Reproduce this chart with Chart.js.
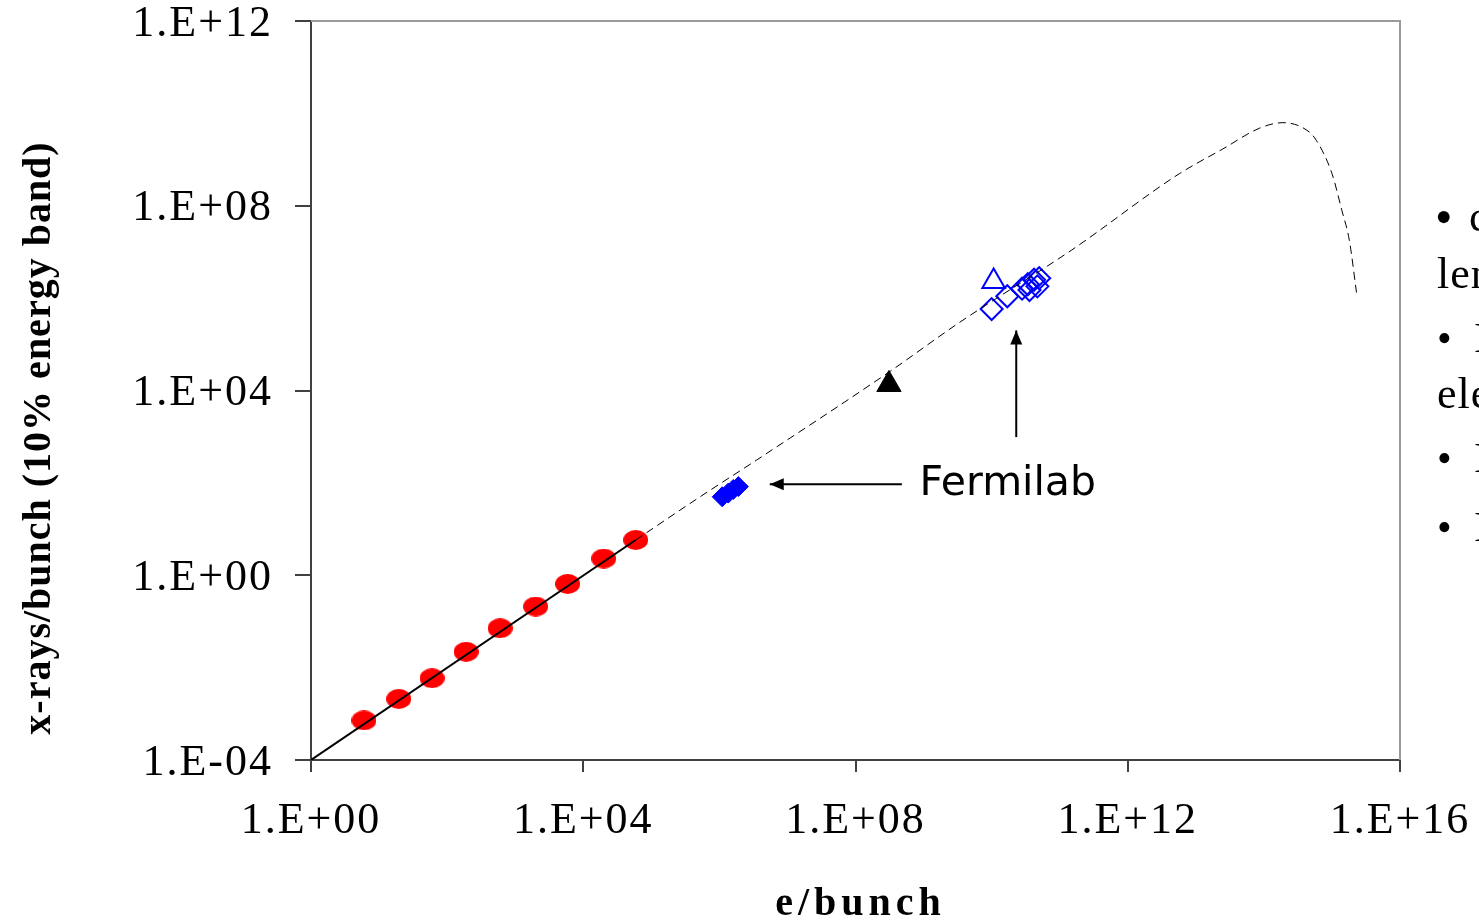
<!DOCTYPE html>
<html>
<head>
<meta charset="utf-8">
<script src="https://cdn.jsdelivr.net/npm/chart.js@4/dist/chart.umd.min.js"></script>
<style>
  html, body { margin: 0; padding: 0; background: #fff; overflow: hidden; }
  #wrap { width: 1479px; height: 923px; }
</style>
</head>
<body>
<div id="wrap"><canvas id="chart" width="1479" height="923"></canvas></div>
<script>
// axis ticks
const xTicks = [1e0, 1e4, 1e8, 1e12, 1e16]
const yTicks = [1e-4, 1e0, 1e4, 1e8, 1e12]

// red measured points (e/bunch, x-rays/bunch)
const redX = [6.0, 19.5, 60, 190, 600, 2000, 5900, 2.0e4, 5.9e4]
const redY = [7.2e-4, 2.1e-3, 5.9e-3, 2.2e-2, 7.1e-2, 0.21, 0.65, 2.3, 5.8]

// solid fit line
const fitX = [1, 5.9e4]
const fitY = [1e-4, 5.8]

// dashed extrapolation
const extX = [5.9e4, 5.1e5, 3.5e6, 3.1e8, 3.4e9, 1.5e11, 5.8e12, 2.5e13, 8.7e13, 1.9e14, 4.3e14, 5.9e14, 1.0e15, 1.4e15, 1.8e15, 2.3e15]
const extY = [5.8, 49, 310, 2.5e4, 3.0e5, 1.1e7, 5.0e8, 1.7e9, 4.8e9, 6.3e9, 4.3e9, 2.6e9, 5.0e8, 7.9e7, 1.8e7, 1.3e6]

// Fermilab filled diamonds
const fermiX = [1.1e6, 1.35e6, 1.6e6, 1.9e6]
const fermiY = [50, 60, 72, 83]

// black triangle
const triX = [3.1e8]
const triY = [1.35e4]

// open blue triangle
const openTriX = [1.07e10]
const openTriY = [2.3e6]

// open blue diamonds
const openDiaX = [1.0e10, 1.7e10, 2.8e10, 3.4e10, 4.2e10, 5.0e10, 3.6e10, 4.7e10]
const openDiaY = [5.8e5, 1.1e6, 1.6e6, 2.0e6, 2.5e6, 2.7e6, 1.5e6, 1.8e6]

const pts = (xs, ys) => xs.map((x, i) => ({x: x, y: ys[i]}))

// red ellipse marker
const ellipse = document.createElement('canvas')
ellipse.width = 25
ellipse.height = 20
{
  const c = ellipse.getContext('2d')
  c.fillStyle = '#ff0000'
  c.beginPath()
  c.ellipse(12.5, 10, 12.5, 10, 0, 0, Math.PI * 2)
  c.fill()
}

function fmt(v) {
  const e = Math.round(Math.log10(v))
  const s = e < 0 ? '-' : '+'
  return '1.E' + s + String(Math.abs(e)).padStart(2, '0')
}

const serif = '"Liberation Serif", "Times New Roman", serif'

const decor = {
  id: 'decor',
  beforeDraw(chart) {
    // tick labels in the original are set a bit loose
    chart.ctx.letterSpacing = '2px'
  },
  afterDraw(chart) {
    const ctx = chart.ctx
    const a = chart.chartArea
    const xs = chart.scales.x, ys = chart.scales.y
    ctx.save()

    // top & right frame
    ctx.strokeStyle = '#9a9a9a'
    ctx.lineWidth = 2
    ctx.beginPath()
    ctx.moveTo(a.left, a.top)
    ctx.lineTo(a.right, a.top)
    ctx.lineTo(a.right, a.bottom)
    ctx.stroke()

    // axis titles
    ctx.fillStyle = '#000'
    ctx.font = 'bold 40px ' + serif
    ctx.textAlign = 'center'
    ctx.textBaseline = 'alphabetic'
    ctx.letterSpacing = '5px'
    ctx.fillText('e/bunch', (a.left + a.right) / 2 + 5, 915)
    ctx.letterSpacing = '1px'
    ctx.save()
    ctx.translate(50, 438)
    ctx.rotate(-Math.PI / 2)
    ctx.fillText('x-rays/bunch (10% energy band)', 0, 0)
    ctx.restore()

    // Fermilab annotation
    ctx.letterSpacing = '0px'
    ctx.font = '41px "DejaVu Sans", sans-serif'
    ctx.textAlign = 'left'
    ctx.fillText('Fermilab', xs.getPixelForValue(8.7e8), ys.getPixelForValue(54))

    const arrow = (x1, y1, x2, y2) => {
      ctx.strokeStyle = '#000'
      ctx.lineWidth = 2
      ctx.beginPath()
      ctx.moveTo(x1, y1)
      ctx.lineTo(x2, y2)
      ctx.stroke()
      const ang = Math.atan2(y2 - y1, x2 - x1)
      const L = 14, W = 6
      ctx.beginPath()
      ctx.moveTo(x2, y2)
      ctx.lineTo(x2 - L * Math.cos(ang) + W * Math.sin(ang), y2 - L * Math.sin(ang) - W * Math.cos(ang))
      ctx.lineTo(x2 - L * Math.cos(ang) - W * Math.sin(ang), y2 - L * Math.sin(ang) + W * Math.cos(ang))
      ctx.closePath()
      ctx.fill()
    }
    arrow(xs.getPixelForValue(4.8e8), ys.getPixelForValue(93), xs.getPixelForValue(5.5e6), ys.getPixelForValue(93))
    arrow(xs.getPixelForValue(2.3e10), ys.getPixelForValue(980), xs.getPixelForValue(2.3e10), ys.getPixelForValue(2.0e5))

    // clipped slide text on the right
    ctx.letterSpacing = '1px'
    ctx.font = '50px ' + serif
    ctx.fillText('\u2022', 1435, 234)
    ctx.font = '44px ' + serif
    ctx.fillText('c', 1469, 231)
    ctx.fillText('len', 1437, 288)
    ctx.fillText('ele', 1437, 408)
    ctx.font = '42px ' + serif
    ctx.fillText('\u2022', 1437, 352)
    ctx.fillText('\u2022', 1437, 472)
    ctx.fillText('\u2022', 1437, 541)
    ctx.fillText('I', 1474, 352)
    ctx.fillText('I', 1474, 472)
    ctx.fillText('I', 1474, 541)
    ctx.restore()
  }
}

new Chart(document.getElementById('chart'), {
  type: 'scatter',
  data: {
    datasets: [
      {
        type: 'line', data: pts(fitX, fitY), borderColor: '#000', borderWidth: 2,
        pointRadius: 0, fill: false
      },
      {
        type: 'line', data: pts(extX, extY), borderColor: '#000', borderWidth: 1,
        borderDash: [8, 5], pointRadius: 0, fill: false, cubicInterpolationMode: 'monotone'
      },
      { data: pts(redX, redY), pointStyle: ellipse },
      {
        data: pts(fermiX, fermiY), pointStyle: 'rectRot', pointRadius: 10,
        backgroundColor: '#0000ff', borderColor: '#0000ff', borderWidth: 1
      },
      {
        data: pts(triX, triY), pointStyle: 'triangle', pointRadius: 14,
        backgroundColor: '#000', borderColor: '#000', borderWidth: 1
      },
      {
        data: pts(openTriX, openTriY), pointStyle: 'triangle', pointRadius: 13,
        backgroundColor: 'rgba(0,0,0,0)', borderColor: '#0000ff', borderWidth: 2
      },
      {
        data: pts(openDiaX, openDiaY), pointStyle: 'rectRot', pointRadius: 11,
        backgroundColor: 'rgba(0,0,0,0)', borderColor: '#0000ff', borderWidth: 2
      }
    ]
  },
  options: {
    responsive: false,
    animation: false,
    devicePixelRatio: 1,
    layout: { padding: { top: 21, right: 79, left: 0, bottom: 0 } },
    plugins: { legend: { display: false }, tooltip: { enabled: false } },
    scales: {
      x: {
        type: 'logarithmic', min: 1, max: 1e16,
        afterBuildTicks: s => { s.ticks = xTicks.map(v => ({value: v})) },
        afterFit: s => { s.height = 163; s.paddingLeft = 0; s.paddingRight = 0 },
        ticks: {
          callback: v => fmt(v), maxRotation: 0, autoSkip: false, padding: 23,
          color: '#000', font: { family: serif, size: 44 }
        },
        grid: { drawOnChartArea: false, tickLength: 12, color: '#404040', lineWidth: 2 },
        border: { color: '#404040', width: 2 }
      },
      y: {
        type: 'logarithmic', min: 1e-4, max: 1e12,
        afterBuildTicks: s => { s.ticks = yTicks.map(v => ({value: v})) },
        afterFit: s => { s.width = 311; s.paddingTop = 0; s.paddingBottom = 0 },
        ticks: {
          callback: v => fmt(v), autoSkip: false, padding: 22, labelOffset: 3,
          color: '#000', font: { family: serif, size: 44 }
        },
        grid: { drawOnChartArea: false, tickLength: 16, color: '#404040', lineWidth: 2 },
        border: { color: '#404040', width: 2 }
      }
    }
  },
  plugins: [decor]
})
</script>
</body>
</html>
